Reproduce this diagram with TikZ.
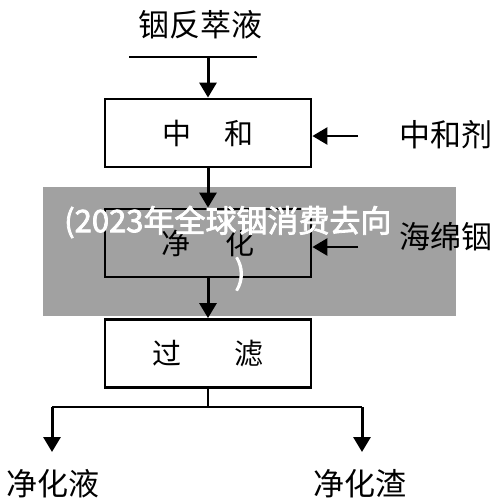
\documentclass[tikz,border=0pt]{standalone}
\usepackage{fontspec}
\setmainfont{Noto Sans CJK SC}
\newfontfamily\wcjk[FakeBold=2.5]{Noto Sans CJK SC}
\usetikzlibrary{arrows.meta}
\begin{document}
\begin{tikzpicture}[x=1pt,y=-1pt,
  box/.style={draw,line width=2.8pt,minimum width=206pt,minimum height=68pt,inner sep=0pt,font=\fontsize{29}{30}\selectfont},
  lbl/.style={font=\fontsize{31}{32}\selectfont,inner sep=0pt},
  flow/.style={line width=3pt,-{Triangle[length=15pt,width=17pt]}},
  feed/.style={line width=2.6pt,-{Triangle[length=15pt,width=17pt]}},
  thinline/.style={line width=1.4pt},
  branch/.style={line width=2.2pt}]
\useasboundingbox (0,0) rectangle (500,504);
\fill[white] (0,0) rectangle (500,504);
% source
\node[lbl] (src) at (200,25) {铟反萃液};
\coordinate (barL) at (129,57);
\coordinate (barR) at (257,57);
% boxes
\node[box] (b1) at (208,133) {中\hspace{1.15em}和};
\node[box] (b2) at (208,243) {净\hspace{1.2em}化};
\node[box] (b3) at (208,353.5) {过\hspace{1.8em}滤};
\coordinate (barM) at (b1.north|-barL);
\draw[thinline] (barL) -- (barR);
\draw[flow] (barM) -- (b1.north);
\draw[flow] (b1.south) -- (b2.north);
\draw[flow] (b2.south) -- (b3.north);
% side feeds
\node[lbl,anchor=west] (r1) at (399,135) {中和剂};
\node[lbl,anchor=west] (r2) at (399,237) {海绵铟};
\coordinate (r1s) at (358,136);
\coordinate (r2s) at (358,247);
\draw[feed] (r1s) -- (b1.east|-r1s);
\draw[feed] (r2s) -- (b2.east|-r2s);
% branch
\coordinate (br) at (b3.south|-0,407);
\coordinate (brL) at (52,407);
\coordinate (brR) at (362,407);
\coordinate (e1) at (52,452);
\coordinate (e2) at (362,452);
\node[lbl] (o1) at (53,484) {净化液};
\node[lbl] (o2) at (360,484) {净化渣};
\draw[branch] (b3.south) -- (br);
\draw[branch] (brL) -- (brR);
\draw[flow] (brL) -- (e1);
\draw[flow] (brR) -- (e2);
% overlay band
\fill[black,opacity=0.37] (43,187) rectangle (456,316);
\node[text=white,inner sep=0pt,font=\wcjk\fontsize{31}{31}\selectfont,anchor=west] (ov1) at (64,222) {(2023年全球铟消费去向};
\node[text=white,inner sep=0pt,font=\wcjk\fontsize{33}{33}\selectfont] (ov2) at (240,274) {)};
\end{tikzpicture}
\end{document}
